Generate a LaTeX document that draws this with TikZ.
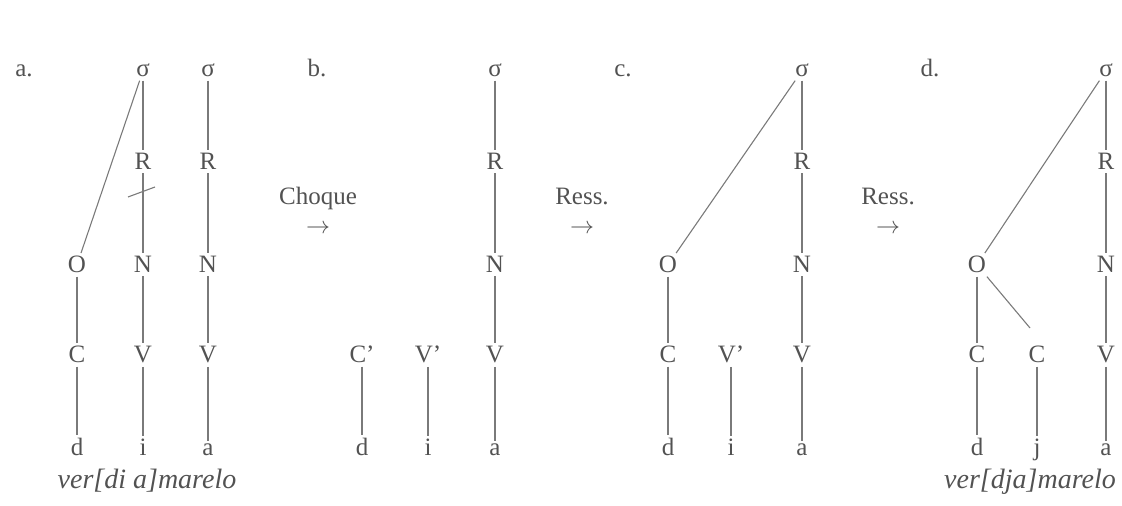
\documentclass[tikz,border=0pt]{standalone}
\usepackage{fontspec}
\setmainfont{Liberation Serif}
\begin{document}
\begin{tikzpicture}[x=0.5pt,y=-0.5pt,
    every node/.style={inner sep=1.5pt,anchor=base,text=black!68,font=\fontsize{12.5}{14}\selectfont},
    gloss/.style={font=\fontsize{14}{16}\selectfont\itshape},
    link/.style={draw=black!52,line width=0.55pt}]
      \useasboundingbox (0,0) rectangle (1122,506);

      \node (la) at (24,77) {a.};
      \node (sA1) at (143,77) {σ};
      \node (sA2) at (208,77) {σ};
      \node (RA1) at (143,170) {R};
      \node (RA2) at (208,170) {R};
      \node (OA) at (77,273) {O};
      \node (NA1) at (143,273) {N};
      \node (NA2) at (208,273) {N};
      \node (CA) at (77,363) {C};
      \node (VA1) at (143,363) {V};
      \node (VA2) at (208,363) {V};
      \node (dA) at (77,456) {d};
      \node (iA) at (143,456) {i};
      \node (aA) at (208,456) {a};
      \node[gloss] (wA) at (147,488) {ver[di a]marelo};
      \coordinate (cut1) at (128,197);
      \coordinate (cut2) at (155,187);

      \node (lb) at (317,77) {b.};
      \node (chq) at (318,205) {Choque};
      \node (arB) at (318,234) {$\rightarrow$};
      \node (sB) at (495,77) {σ};
      \node (RB) at (495,170) {R};
      \node (NB) at (495,273) {N};
      \node (CB) at (362,363) {C'};
      \node (VB1) at (428,363) {V'};
      \node (VB) at (495,363) {V};
      \node (dB) at (362,456) {d};
      \node (iB) at (428,456) {i};
      \node (aB) at (495,456) {a};

      \node (lc) at (623,77) {c.};
      \node (ressC) at (582,205) {Ress.};
      \node (arC) at (582,234) {$\rightarrow$};
      \node (sC) at (802,77) {σ};
      \node (RC) at (802,170) {R};
      \node (OC) at (668,273) {O};
      \node (NC) at (802,273) {N};
      \node (CC) at (668,363) {C};
      \node (VC1) at (731,363) {V'};
      \node (VC) at (802,363) {V};
      \node (dC) at (668,456) {d};
      \node (iC) at (731,456) {i};
      \node (aC) at (802,456) {a};

      \node (ld) at (930,77) {d.};
      \node (ressD) at (888,205) {Ress.};
      \node (arD) at (888,234) {$\rightarrow$};
      \node (sD) at (1106,77) {σ};
      \node (RD) at (1106,170) {R};
      \node (OD) at (977,273) {O};
      \node (ND) at (1106,273) {N};
      \node (CD1) at (977,363) {C};
      \node (CD2) at (1037,363) {C};
      \node (VD) at (1106,363) {V};
      \node (dD) at (977,456) {d};
      \node (jD) at (1037,456) {j};
      \node (aD) at (1106,456) {a};
      \node[gloss] (wD) at (1030,488) {ver[dja]marelo};
      \coordinate (ocD) at (1030,328);

      \draw[link] (sA1) -- (RA1);
      \draw[link] (RA1) -- (NA1);
      \draw[link] (NA1) -- (VA1);
      \draw[link] (VA1) -- (iA);
      \draw[link] (sA1) -- (OA);
      \draw[link] (OA) -- (CA);
      \draw[link] (CA) -- (dA);
      \draw[link] (sA2) -- (RA2);
      \draw[link] (RA2) -- (NA2);
      \draw[link] (NA2) -- (VA2);
      \draw[link] (VA2) -- (aA);
      \draw[link] (cut1) -- (cut2);

      \draw[link] (sB) -- (RB);
      \draw[link] (RB) -- (NB);
      \draw[link] (NB) -- (VB);
      \draw[link] (VB) -- (aB);
      \draw[link] (CB) -- (dB);
      \draw[link] (VB1) -- (iB);

      \draw[link] (sC) -- (RC);
      \draw[link] (RC) -- (NC);
      \draw[link] (NC) -- (VC);
      \draw[link] (VC) -- (aC);
      \draw[link] (sC) -- (OC);
      \draw[link] (OC) -- (CC);
      \draw[link] (CC) -- (dC);
      \draw[link] (VC1) -- (iC);

      \draw[link] (sD) -- (RD);
      \draw[link] (RD) -- (ND);
      \draw[link] (ND) -- (VD);
      \draw[link] (VD) -- (aD);
      \draw[link] (sD) -- (OD);
      \draw[link] (OD) -- (CD1);
      \draw[link] (CD1) -- (dD);
      \draw[link] (OD) -- (ocD);
      \draw[link] (CD2) -- (jD);
    \end{tikzpicture}
\end{document}
